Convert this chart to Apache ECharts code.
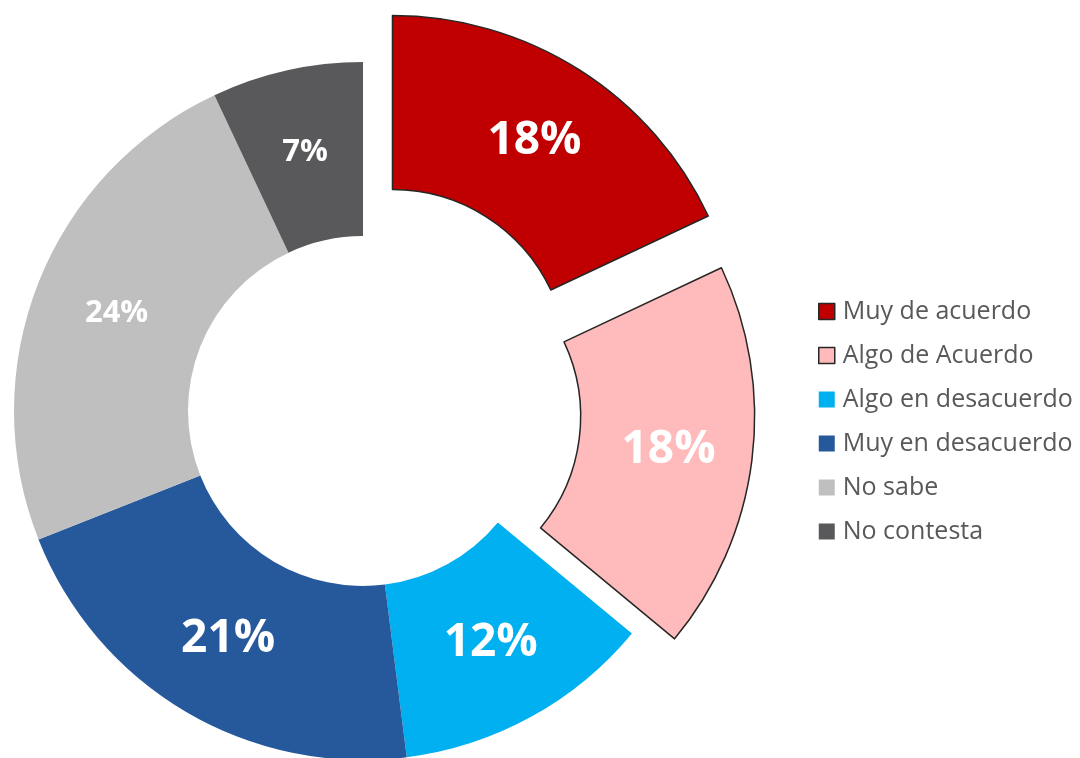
<!DOCTYPE html>
<html>
<head>
<meta charset="utf-8">
<title>Encuesta</title>
<script src="https://cdn.jsdelivr.net/npm/echarts@6/dist/echarts.min.js"></script>
<style>
  html, body { margin: 0; padding: 0; background: #ffffff; }
  #chart { width: 1080px; height: 758px; }
</style>
</head>
<body>
<div id="chart"></div>
<script>
// Survey answers (percent of respondents)
const categories = ['Muy de acuerdo', 'Algo de Acuerdo', 'Algo en desacuerdo', 'Muy en desacuerdo', 'No sabe', 'No contesta'];
const shares = [18, 18, 12, 21, 24, 7];

// Styling per slice
const colors = ['#C00000', '#FFBBBC', '#00B0F0', '#26599B', '#BFBFBF', '#59595B'];
const labelFontSizes = [46, 46, 46, 46, 31, 31];
// Pulled-out slices and their distance from the centre (px); 0 = not pulled out
const pullOut = [55, 43, 0, 0, 0, 0];

const FONT = '"Open Sans", "Noto Sans", sans-serif';
const CENTER = [363, 411];
const RADIUS = [175, 349];

// One pie series per pulled-out slice, plus one for the slices that stay in place.
// Every series carries the full data so that the slice angles stay identical.
function buildSeries(visible, offset) {
  return {
    type: 'pie',
    center: CENTER,
    radius: RADIUS,
    startAngle: 90,
    clockwise: true,
    silent: true,
    selectedMode: 'multiple',
    selectedOffset: offset,
    emphasis: { disabled: true },
    labelLine: { show: false },
    data: categories.map((name, i) => {
      const shown = visible(i);
      return {
        name: name,
        value: shares[i],
        selected: shown && pullOut[i] > 0,
        itemStyle: {
          color: colors[i],
          opacity: shown ? 1 : 0,
          borderColor: '#262626',
          borderWidth: pullOut[i] > 0 ? 1.5 : 0
        },
        label: {
          show: shown,
          position: 'inside',
          formatter: '{c}%',
          color: '#ffffff',
          fontFamily: FONT,
          fontWeight: 'bold',
          fontSize: labelFontSizes[i]
        }
      };
    })
  };
}

const series = [buildSeries(i => pullOut[i] === 0, 0)];
pullOut.forEach((off, i) => {
  if (off > 0) series.push(buildSeries(j => j === i, off));
});

const chart = echarts.init(document.getElementById('chart'), null, { renderer: 'canvas' });
chart.setOption({
  backgroundColor: '#ffffff',
  animation: false,
  legend: {
    orient: 'vertical',
    left: 818,
    top: 299,
    padding: 0,
    itemWidth: 16,
    itemHeight: 16,
    itemGap: 19,
    icon: 'rect',
    selectedMode: false,
    textStyle: {
      fontFamily: FONT,
      fontSize: 25,
      lineHeight: 25,
      color: '#595959',
      padding: [0, 0, 0, 3]
    },
    data: categories.map((name, i) => ({
      name: name,
      itemStyle: {
        color: colors[i],
        opacity: 1,
        borderColor: '#262626',
        borderWidth: pullOut[i] > 0 ? 1.5 : 0
      }
    }))
  },
  series: series
});
</script>
</body>
</html>
